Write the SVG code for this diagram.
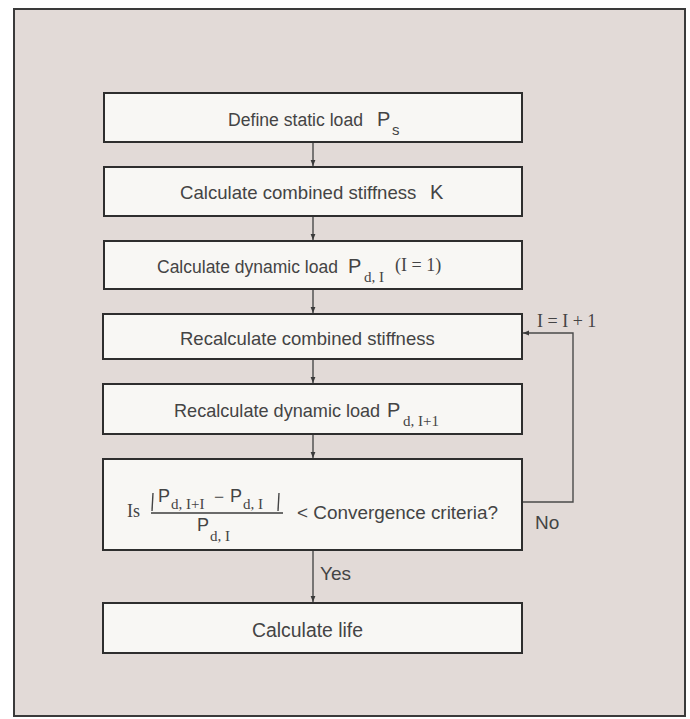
<svg xmlns="http://www.w3.org/2000/svg" width="690" height="719" viewBox="0 0 690 719">
<defs>
<style>
.box{fill:#f8f7f4;stroke:#2e2e2e;stroke-width:2}
.t{font-family:"Liberation Sans",Arial,sans-serif;font-size:18.5px;fill:#444444}
.pp{font-family:"Liberation Sans",Arial,sans-serif;font-size:20px;fill:#444444}
.p{font-family:"Liberation Sans",Arial,sans-serif;font-size:18px;fill:#444444}
.m{font-family:"Liberation Sans",Arial,sans-serif;font-size:19px;fill:#444444}
.s{font-family:"Liberation Sans",Arial,sans-serif;font-size:15px;fill:#444444}
.r{font-family:"Liberation Serif","Times New Roman",serif;font-size:18px;fill:#444444}
.rs{font-family:"Liberation Serif","Times New Roman",serif;font-size:15px;fill:#444444}
.c{fill:none;stroke:#4a4a4a;stroke-width:1.4}
.bar{stroke:#444444;stroke-width:1.4}
</style>
<marker id="ah" viewBox="0 0 10 10" refX="10" refY="5" markerWidth="6" markerHeight="6" orient="auto" markerUnits="userSpaceOnUse">
<path d="M0,1 L10,5 L0,9 z" fill="#3a3a3a"/>
</marker>
</defs>
<rect x="0" y="0" width="690" height="719" fill="#ffffff"/>
<rect x="14" y="9" width="671" height="707" fill="#e2dad7" stroke="#3a3a3a" stroke-width="2"/>

<g id="connectors">
<line class="c" x1="313" y1="143" x2="313" y2="166" marker-end="url(#ah)"/>
<line class="c" x1="313" y1="217" x2="313" y2="240" marker-end="url(#ah)"/>
<line class="c" x1="313" y1="290" x2="313" y2="313" marker-end="url(#ah)"/>
<line class="c" x1="313" y1="360" x2="313" y2="383" marker-end="url(#ah)"/>
<line class="c" x1="313" y1="435" x2="313" y2="458" marker-end="url(#ah)"/>
<line class="c" x1="313" y1="551" x2="313" y2="602" marker-end="url(#ah)"/>
<polyline class="c" points="522,502 573,502 573,333 523,333" marker-end="url(#ah)"/>
<text class="m" x="320" y="580">Yes</text>
<text class="m" x="535" y="529">No</text>
<text class="r" x="537" y="327">I = I + 1</text>
</g>

<g id="n1">
<rect class="box" x="104" y="93" width="418" height="49"/>
<text class="t" x="228" y="126" style="font-size:17.6px">Define static load</text>
<text class="pp" x="377" y="126">P</text>
<text class="s" x="392" y="135">s</text>
</g>

<g id="n2">
<rect class="box" x="104" y="167" width="418" height="49"/>
<text class="t" x="180" y="199" style="font-size:18.6px">Calculate combined stiffness</text>
<text class="pp" x="430" y="199">K</text>
</g>

<g id="n3">
<rect class="box" x="104" y="241" width="418" height="48"/>
<text class="t" x="157" y="273" style="font-size:17.5px">Calculate dynamic load</text>
<text class="pp" x="348" y="273">P</text>
<text class="rs" x="364" y="282">d, I</text>
<text class="r" x="395" y="271">(I = 1)</text>
</g>

<g id="n4">
<rect class="box" x="103" y="314" width="419" height="45"/>
<text class="t" x="180" y="345" style="font-size:18.5px">Recalculate combined stiffness</text>
</g>

<g id="n5">
<rect class="box" x="103" y="384" width="419" height="50"/>
<text class="t" x="174" y="417" style="font-size:18.1px">Recalculate dynamic load</text>
<text class="pp" x="387" y="417">P</text>
<text class="rs" x="403" y="426">d, I+1</text>
</g>

<g id="n6">
<rect class="box" x="103" y="459" width="419" height="91"/>
<text class="r" x="127" y="517">Is</text>
<line class="bar" x1="153" y1="493" x2="152" y2="511"/>
<text class="p" x="158" y="502">P</text>
<text class="rs" x="171" y="509">d, I+I</text>
<text class="r" x="214" y="503">−</text>
<text class="p" x="230" y="502">P</text>
<text class="rs" x="243" y="509">d, I</text>
<line class="bar" x1="279" y1="493" x2="278" y2="511"/>
<line x1="151" y1="513" x2="283" y2="513" stroke="#3c3c3c" stroke-width="1.6"/>
<text class="p" x="197" y="531">P</text>
<text class="rs" x="210" y="541">d, I</text>
<text class="t" x="297" y="519" style="font-size:18.9px">&lt; Convergence criteria?</text>
</g>

<g id="n7">
<rect class="box" x="103" y="603" width="419" height="50"/>
<text class="t" x="252" y="637" style="font-size:19.4px">Calculate life</text>
</g>
</svg>
